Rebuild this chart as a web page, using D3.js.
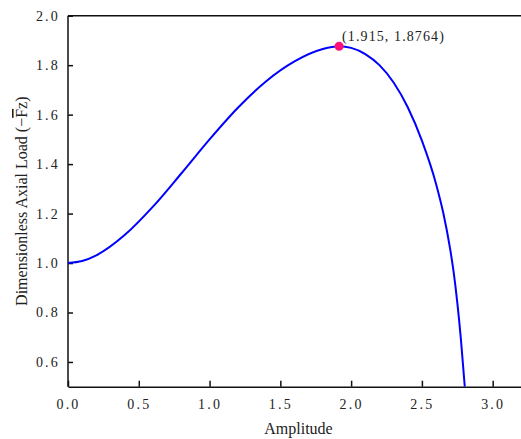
<!DOCTYPE html>
<html>
<head>
<meta charset="utf-8">
<script src="https://cdn.jsdelivr.net/npm/d3@7"></script>
<style>
  html, body { margin: 0; padding: 0; background: #fff; }
  svg text { font-family: "Liberation Serif", "DejaVu Serif", serif; fill: #222; }
</style>
</head>
<body>
<svg id="chart" width="521" height="439"></svg>
<script>
// data
const amplitude = [0, 0.1, 0.2, 0.4, 0.6, 0.8, 1.0, 1.2, 1.4, 1.6, 1.8, 1.915, 2.0, 2.1, 2.2, 2.3, 2.4, 2.5, 2.6, 2.65, 2.7, 2.725, 2.75, 2.775, 2.8, 2.803];
const axialLoad = [1.0, 1.008, 1.031, 1.113, 1.228, 1.362, 1.50, 1.628, 1.735, 1.815, 1.865, 1.8764, 1.870, 1.845, 1.80, 1.73, 1.63, 1.495, 1.32, 1.205, 1.055, 0.96, 0.84, 0.695, 0.52, 0.5];
const peak = { x: 1.915, y: 1.8764, label: "(1.915, 1.8764)" };
const xTicks = [0, 0.5, 1.0, 1.5, 2.0, 2.5, 3.0];
const yTicks = [0.6, 0.8, 1.0, 1.2, 1.4, 1.6, 1.8, 2.0];

const svg = d3.select("#chart");
const margin = { left: 68, right: 0, top: 15.7, bottom: 52.3 };
const W = 521, H = 439;

const x = d3.scaleLinear().domain([0, 3.2]).range([margin.left, W - margin.right]);
const y = d3.scaleLinear().domain([0.5, 2.0]).range([H - margin.bottom, margin.top]);

const fmt = d3.format(".1f");

// axes, ticks pointing inward
const xAxis = svg.append("g")
  .attr("transform", `translate(0,${y(0.5)})`)
  .call(d3.axisBottom(x).tickValues(xTicks).tickFormat(fmt).tickSizeInner(-6).tickSizeOuter(0).tickPadding(12));
const yAxis = svg.append("g")
  .attr("transform", `translate(${x(0)},0)`)
  .call(d3.axisLeft(y).tickValues(yTicks).tickFormat(fmt).tickSizeInner(-5).tickSizeOuter(0).tickPadding(8));

[xAxis, yAxis].forEach(g => {
  g.select(".domain").attr("stroke", "#111").attr("stroke-width", 1.5);
  g.selectAll(".tick line").attr("stroke", "#111").attr("stroke-width", 1.5);
  g.selectAll(".tick text")
    .style("font-family", '"Liberation Serif", "DejaVu Serif", serif')
    .style("font-size", "14px")
    .style("letter-spacing", "2.2px")
    .attr("fill", "#2a2a2a");
});
yAxis.select(".domain").attr("d", `M0,${y(0.5)}V${y(2.0)}`);

// top frame line
svg.append("line")
  .attr("x1", x(0)).attr("x2", W)
  .attr("y1", y(2.0)).attr("y2", y(2.0))
  .attr("stroke", "#111").attr("stroke-width", 1.5);

// curve
const pts = amplitude.map((a, i) => [a, axialLoad[i]]);
const line = d3.line().x(d => x(d[0])).y(d => y(d[1])).curve(d3.curveMonotoneX);
svg.append("path")
  .datum(pts)
  .attr("d", line)
  .attr("fill", "none")
  .attr("stroke", "#0000ff")
  .attr("stroke-width", 2);

// peak marker
svg.append("circle")
  .attr("cx", x(peak.x)).attr("cy", y(peak.y)).attr("r", 4.5)
  .attr("fill", "#ff1177");
svg.append("text")
  .attr("x", x(peak.x) + 3).attr("y", y(peak.y) - 5)
  .style("font-size", "14px")
  .style("letter-spacing", "1.1px")
  .text(peak.label);

// axis titles
svg.append("text")
  .attr("x", (x(0) + x(3.2)) / 2 + 4).attr("y", 434)
  .attr("text-anchor", "middle")
  .style("font-size", "16px")
  .text("Amplitude");
const yt = svg.append("text")
  .attr("transform", `translate(27,${(y(0.5) + y(2.0)) / 2}) rotate(-90)`)
  .attr("text-anchor", "middle")
  .style("font-size", "16px");
yt.append("tspan").text("Dimensionless Axial Load (\u2212");
yt.append("tspan").style("text-decoration", "overline").text("F");
yt.append("tspan").text("z)");
</script>
</body>
</html>
